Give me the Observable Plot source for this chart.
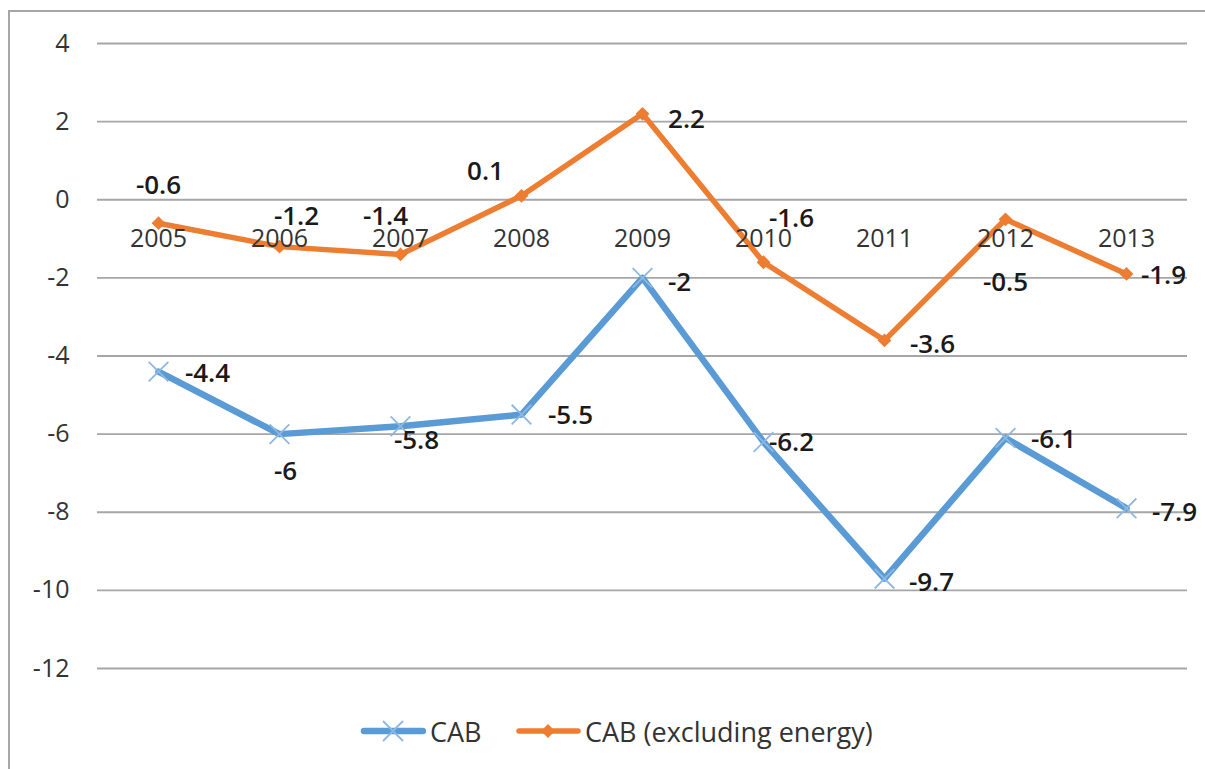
<!DOCTYPE html>
<html>
<head>
<meta charset="utf-8">
<script src="https://cdn.jsdelivr.net/npm/d3@7"></script>
<script src="https://cdn.jsdelivr.net/npm/@observablehq/plot@0.6"></script>
<style>
html, body { margin: 0; padding: 0; background: #fff; overflow: hidden; width: 1205px; height: 769px; }
#frame { position: absolute; left: 8px; top: 10px; width: 1400px; height: 1000px; border-left: 2px solid #a6a6a6; border-top: 2px solid #a6a6a6; }
#chart { position: absolute; left: 0; top: 0; }
#legend { position: absolute; left: 0; top: 700px; width: 1205px; height: 69px; font-family: "Open Sans", sans-serif; font-size: 27px; color: #333; }
.item { position: absolute; top: 13px; display: flex; align-items: center; height: 36px; }
.item svg { display: block; }
.item span { margin-left: 4px; white-space: nowrap; }
</style>
</head>
<body>
<div id="frame"></div>
<div id="chart"></div>
<div id="legend"></div>
<script>
// ---- data ----
const years = ["2005", "2006", "2007", "2008", "2009", "2010", "2011", "2012", "2013"];
const cab = [-4.4, -6, -5.8, -5.5, -2, -6.2, -9.7, -6.1, -7.9];
const cabExEnergy = [-0.6, -1.2, -1.4, 0.1, 2.2, -1.6, -3.6, -0.5, -1.9];
const yTicks = [-12, -10, -8, -6, -4, -2, 0, 2, 4];
const seriesNames = ["CAB", "CAB (excluding energy)"];

// ---- label placement (offsets from each point, px) ----
const cabLabelDx = [49, 6, 16, 49, 37, 28, 47, 48, 48];
const cabLabelDy = [2, 38, 14, 1, 5, 1, 4, 2, 4];
const exLabelDx = [0, 17, -15, -36, 44, 28, 48, 0, 37];
const exLabelDy = [-38, -30, -38, -24, 6, -44, 4, 63, 2];

// ---- styles ----
const blue = "#5B9BD5";
const blueMarker = "#8DB8E2";
const orange = "#ED7D31";

const cabRows = years.map((year, i) => ({ year, value: cab[i] }));
const exRows = years.map((year, i) => ({ year, value: cabExEnergy[i] }));

const labelMarks = (rows, dxs, dys) => rows.map((r, i) =>
  Plot.text([r], {
    x: "year", y: "value", text: d => String(d.value),
    dx: dxs[i], dy: dys[i], fontWeight: 600, fill: "#1a1a1a", fontSize: 26
  })
);

const chart = Plot.plot({
  width: 1205,
  height: 700,
  marginLeft: 97,
  marginRight: 18,
  marginTop: 43,
  marginBottom: 32,
  style: { fontFamily: '"Open Sans", sans-serif', fontSize: "25px", background: "transparent" },
  x: { type: "point", domain: years, padding: 0.5, axis: null },
  y: { domain: [-12, 4], label: null },
  marks: [
    Plot.ruleY(yTicks, { stroke: "#a6a6a6", strokeWidth: 1.8 }),
    Plot.axisY({ ticks: yTicks, tickSize: 0, tickPadding: 28, tickFormat: d => String(d), fill: "#333", fontSize: 25, label: null }),
    Plot.line(cabRows, { x: "year", y: "value", stroke: blue, strokeWidth: 6.5, strokeLinejoin: "round", strokeLinecap: "round" }),
    Plot.dot(cabRows, { x: "year", y: "value", symbol: "times", r: 9, stroke: blueMarker, strokeWidth: 1.8 }),
    Plot.line(exRows, { x: "year", y: "value", stroke: orange, strokeWidth: 5.5, strokeLinejoin: "round", strokeLinecap: "round" }),
    Plot.dot(exRows, { x: "year", y: "value", symbol: "square", r: 5.5, rotate: 45, fill: orange, stroke: "none" }),
    Plot.text(years, { x: d => d, y: () => 0, dy: 39, text: d => d, fill: "#333", fontSize: 25 }),
    ...labelMarks(cabRows, cabLabelDx, cabLabelDy),
    ...labelMarks(exRows, exLabelDx, exLabelDy)
  ]
});
document.getElementById("chart").appendChild(chart);

// ---- legend ----
const legend = document.getElementById("legend");
const legendItems = [
  { name: seriesNames[0], color: blue, marker: "times", left: 360 },
  { name: seriesNames[1], color: orange, marker: "diamond", left: 515 }
];
legendItems.forEach(it => {
  const div = document.createElement("div");
  div.className = "item";
  div.style.left = it.left + "px";
  const ns = "http://www.w3.org/2000/svg";
  const svg = document.createElementNS(ns, "svg");
  svg.setAttribute("width", 66);
  svg.setAttribute("height", 36);
  const line = document.createElementNS(ns, "line");
  line.setAttribute("x1", 4); line.setAttribute("x2", 63);
  line.setAttribute("y1", 18); line.setAttribute("y2", 18);
  line.setAttribute("stroke", it.color);
  line.setAttribute("stroke-width", it.marker === "times" ? 6.5 : 5.5);
  line.setAttribute("stroke-linecap", "round");
  svg.appendChild(line);
  if (it.marker === "times") {
    const p = document.createElementNS(ns, "path");
    p.setAttribute("d", "M23,8L43,28M23,28L43,8");
    p.setAttribute("stroke", blueMarker);
    p.setAttribute("stroke-width", 1.8);
    svg.appendChild(p);
  } else {
    const p = document.createElementNS(ns, "path");
    p.setAttribute("d", "M33,11L40,18L33,25L26,18Z");
    p.setAttribute("fill", orange);
    svg.appendChild(p);
  }
  div.appendChild(svg);
  const span = document.createElement("span");
  span.textContent = it.name;
  div.appendChild(span);
  legend.appendChild(div);
});
</script>
</body>
</html>
